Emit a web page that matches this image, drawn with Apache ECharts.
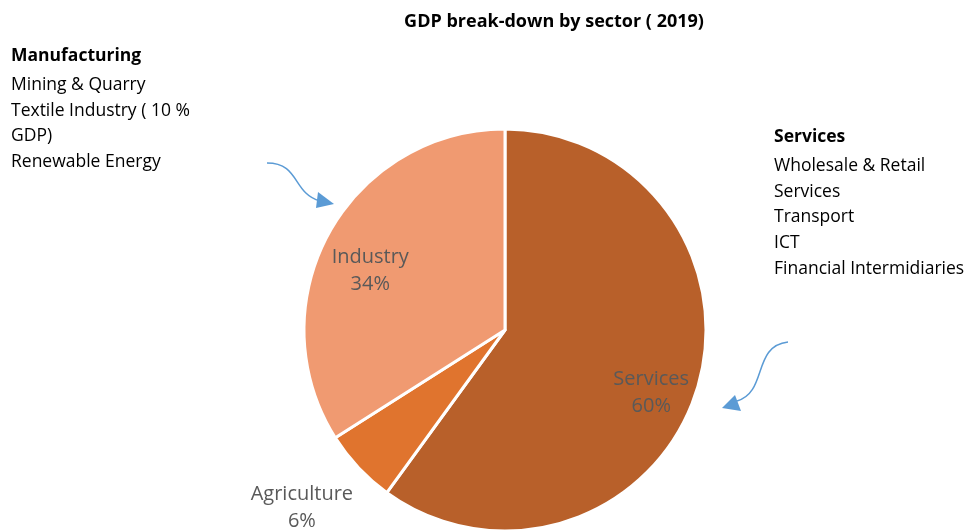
<!DOCTYPE html>
<html>
<head>
<meta charset="utf-8">
<script src="https://cdn.jsdelivr.net/npm/echarts@6/dist/echarts.min.js"></script>
<style>
  html, body { margin:0; padding:0; background:#fff; }
  #chart { width:979px; height:531px; }
</style>
</head>
<body>
<div id="chart"></div>
<script>
  // GDP break-down by sector (2019)
  const SECTORS = ['Services', 'Agriculture', 'Industry'];
  const SHARES = [60, 6, 34];
  const SECTOR_COLORS = ['#B8602A', '#E0742E', '#F09A71'];
  const MANUFACTURING_NOTES = ['Mining & Quarry', 'Textile Industry ( 10 %', 'GDP)', 'Renewable Energy'];
  const SERVICES_NOTES = ['Wholesale & Retail', 'Services', 'Transport', 'ICT', 'Financial Intermidiaries'];

  const FONT = '"Open Sans", Lato, sans-serif';
  const ARROW = '#5B9BD5';
  const CX = 505, CY = 330, R = 201;

  const chart = echarts.init(document.getElementById('chart'), null, { renderer:'canvas' });
  const pieData = SECTORS.map((n, i) => ({ name:n, value:SHARES[i], itemStyle:{ color:SECTOR_COLORS[i] } }));
  const labelText = p => p.name + '\n' + p.value + '%';
  const labelStyle = { color:'#595959', fontSize:20, fontFamily:FONT, lineHeight:27 };

  function block(x, y, head, lines){
    return [
      { type:'text', left:x, top:y, style:{ text:head, fill:'#000', font:'bold 17.5px ' + FONT } },
      { type:'text', left:x, top:y + 25, style:{ text:lines.join('\n'), fill:'#000', font:'17.5px ' + FONT, lineHeight:25.8 } }
    ];
  }
  function arrow(x1, y1, c1x, c1y, c2x, c2y, x2, y2, head){
    return [
      { type:'bezierCurve', shape:{ x1, y1, cpx1:c1x, cpy1:c1y, cpx2:c2x, cpy2:c2y, x2, y2 },
        style:{ stroke:ARROW, lineWidth:1.5, fill:null } },
      { type:'polygon', shape:{ points:head }, style:{ fill:ARROW } }
    ];
  }

  chart.setOption({
    backgroundColor:'#ffffff',
    animation:false,
    title:{ text:'GDP break-down by sector ( 2019)', left:549, top:8, textAlign:'center',
      textStyle:{ fontFamily:FONT, fontSize:18, fontWeight:'bold', color:'#000' } },
    series:[
      { type:'pie', center:[CX, CY], radius:[0, R], startAngle:90, clockwise:true,
        data:pieData, label:{ show:false }, labelLine:{ show:false },
        itemStyle:{ borderColor:'#fff', borderWidth:3 }, silent:true },
      // transparent ring that carries the inside labels at ~0.75 R
      { type:'pie', center:[CX, CY], radius:[R * 0.5, R], startAngle:90, clockwise:true, silent:true,
        data:pieData.map((d, i) => ({ name:d.name, value:d.value, itemStyle:{ color:'transparent' },
          label:{ show:i !== 1 } })),
        label:{ position:'inside', formatter:labelText, offset:[0, 15], ...labelStyle }, labelLine:{ show:false } },
      // transparent ring for the outside Agriculture label
      { type:'pie', center:[CX, CY], radius:[R * 1.16, R * 1.46], startAngle:90, clockwise:true, silent:true,
        data:pieData.map((d, i) => ({ name:d.name, value:d.value, itemStyle:{ color:'transparent' },
          label:{ show:i === 1 } })),
        label:{ position:'inside', formatter:labelText, offset:[-9, -5], ...labelStyle }, labelLine:{ show:false } }
    ],
    graphic:[
      ...block(11, 47, 'Manufacturing', MANUFACTURING_NOTES),
      ...block(774, 128, 'Services', SERVICES_NOTES),
      ...arrow(267, 163, 300, 163, 292, 193, 320, 201, [[318,192],[334,204],[316,208]]),
      ...arrow(788, 342, 752, 346, 768, 392, 737, 401, [[735,395],[722,408],[741,411]])
    ]
  });
</script>
</body>
</html>
